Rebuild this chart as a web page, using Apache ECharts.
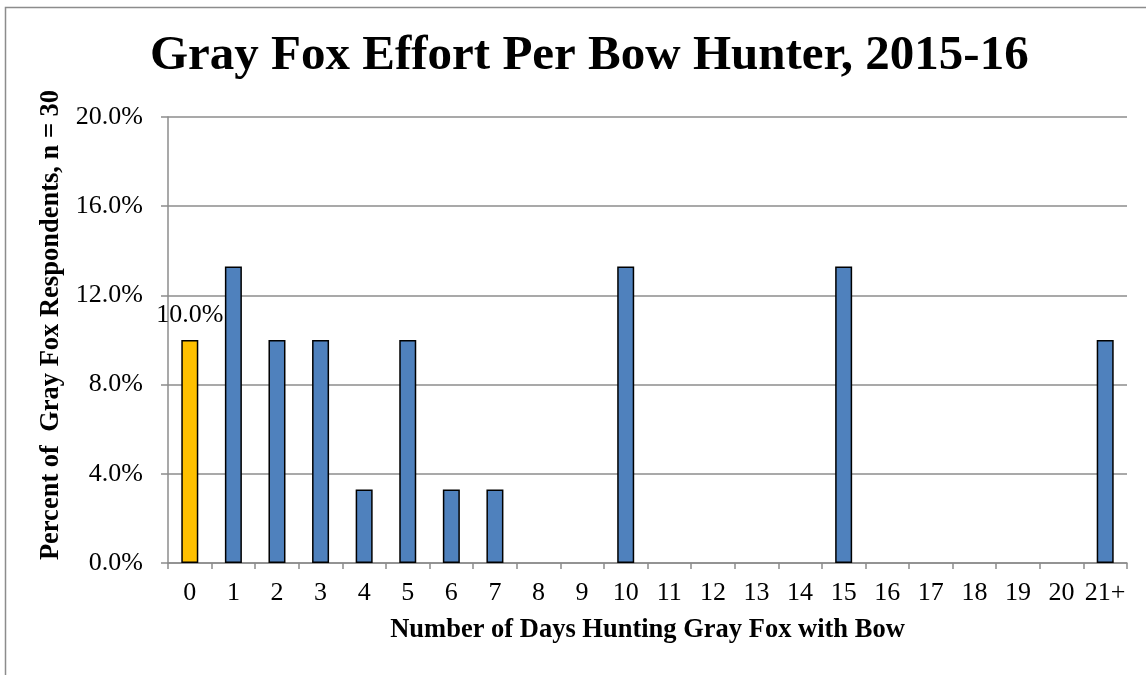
<!DOCTYPE html>
<html>
<head>
<meta charset="utf-8">
<script src="https://cdn.jsdelivr.net/npm/echarts@6/dist/echarts.min.js"></script>
<style>
  html, body { margin: 0; padding: 0; background: #fff; }
  #chart { width: 1146px; height: 675px; }
</style>
</head>
<body>
<div id="chart"></div>
<script>
// days hunted (x categories)
const days = ['0', '1', '2', '3', '4', '5', '6', '7', '8', '9', '10',
  '11', '12', '13', '14', '15', '16', '17', '18', '19', '20', '21+'];
// percent of respondents, n = 30
const percents = [10.0, 13.3, 10.0, 10.0, 3.3, 10.0, 3.3, 3.3, 0, 0, 13.3,
  0, 0, 0, 0, 13.3, 0, 0, 0, 0, 0, 10.0];
const highlightIndex = 0;

const serif = '"Liberation Serif", "Times New Roman", serif';
const gray = '#8c8c8c';

let myChart = echarts.init(document.getElementById('chart'));
myChart.setOption({
  animation: false,
  textStyle: { fontFamily: serif },
  title: {
    text: 'Gray Fox Effort Per Bow Hunter, 2015-16',
    left: 145,
    top: 27,
    textStyle: { fontFamily: serif, fontWeight: 'bold', fontSize: 49, color: '#000' }
  },
  graphic: [{
    type: 'rect',
    shape: { x: 5.5, y: 7.5, width: 1300, height: 800 },
    style: { fill: 'none', stroke: gray, lineWidth: 1.5 },
    silent: true
  }],
  grid: { left: 168, right: 19, top: 117, bottom: 112 },
  xAxis: {
    type: 'category',
    data: days,
    name: 'Number of Days Hunting Gray Fox with Bow',
    nameLocation: 'middle',
    nameGap: 54,
    nameTextStyle: { fontFamily: serif, fontWeight: 'bold', fontSize: 26.5, color: '#000' },
    axisLine: { lineStyle: { color: gray, width: 1.5 } },
    axisTick: { show: true, length: 6, lineStyle: { color: gray, width: 1.5 } },
    axisLabel: { interval: 0, fontFamily: serif, fontSize: 26, color: '#000', margin: 17 }
  },
  yAxis: {
    type: 'value',
    min: 0,
    max: 20,
    interval: 4,
    name: 'Percent of  Gray Fox Respondents, n = 30',
    nameLocation: 'middle',
    nameGap: 96,
    nameTextStyle: { fontFamily: serif, fontWeight: 'bold', fontSize: 26.5, color: '#000', padding: [0, 0, 0, 30] },
    axisLine: { show: true, lineStyle: { color: gray, width: 1.5 } },
    axisTick: { show: true, length: 7, lineStyle: { color: gray, width: 1.5 } },
    axisLabel: {
      fontFamily: serif, fontSize: 26, color: '#000', margin: 25,
      formatter: function (v) { return v.toFixed(1) + '%'; }
    },
    splitLine: { show: true, lineStyle: { color: gray, width: 1.5 } }
  },
  series: [{
    type: 'bar',
    barWidth: '39%',
    data: percents.map(function (v, i) {
      let item = {
        value: v,
        itemStyle: {
          color: i === highlightIndex ? '#FFC000' : '#4F81BD',
          borderColor: '#000',
          borderWidth: v > 0 ? 1.5 : 0
        }
      };
      if (i === highlightIndex) {
        item.label = {
          show: true,
          position: 'top',
          distance: 12,
          fontFamily: serif,
          fontSize: 26,
          color: '#000',
          formatter: function (p) { return p.value.toFixed(1) + '%'; }
        };
      }
      return item;
    })
  }]
});
</script>
</body>
</html>
